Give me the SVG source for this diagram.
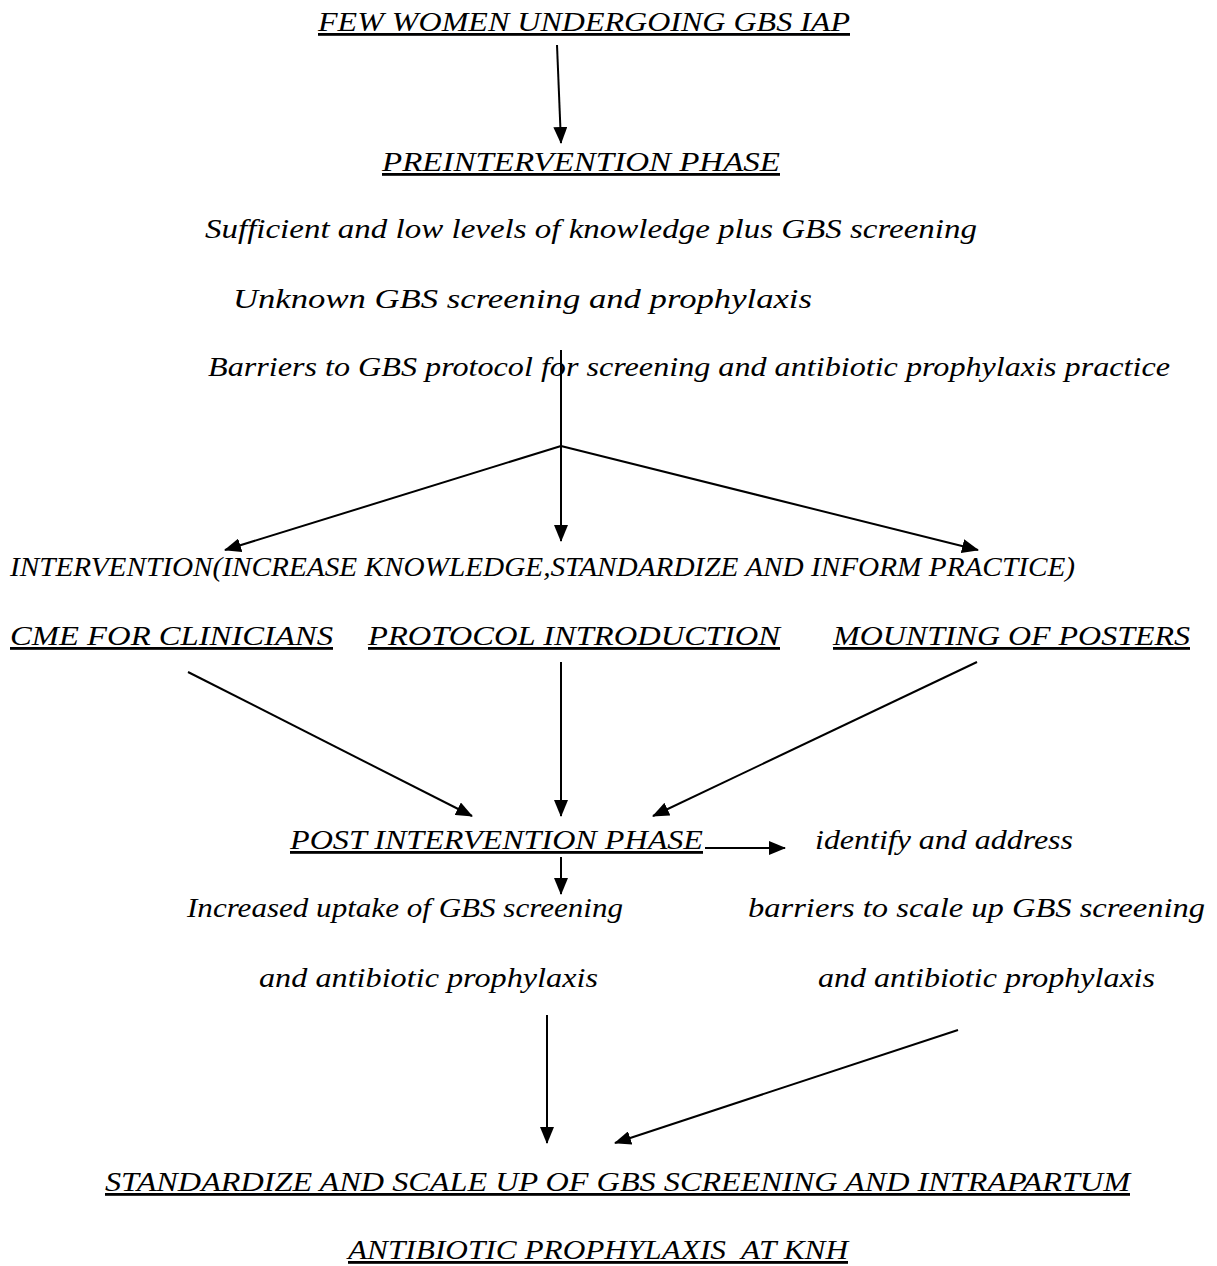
<svg xmlns="http://www.w3.org/2000/svg" width="1217" height="1266" viewBox="0 0 1217 1266">
<style>
text{font-family:"Liberation Serif","Times New Roman",serif;font-style:italic;font-size:28px;fill:#000}
.u{text-decoration:underline}
.c line,.c path{stroke:#000;stroke-width:2;fill:none}
</style>
<defs>
<marker id="ah" markerUnits="userSpaceOnUse" markerWidth="17" markerHeight="14" refX="16" refY="7" orient="auto">
<path d="M0,0 L17,7 L0,14 Z" fill="#000"/>
</marker>
</defs>
<rect width="1217" height="1266" fill="#fff"/>
<g class="c" id="connectors">
<line x1="557" y1="45" x2="561" y2="143" marker-end="url(#ah)"/>
<line x1="561" y1="350" x2="561" y2="446" stroke-width="1.5"/>
<line x1="561" y1="446" x2="225" y2="550" marker-end="url(#ah)"/>
<line x1="561" y1="446" x2="561" y2="541" stroke-width="1.5" marker-end="url(#ah)"/>
<line x1="561" y1="446" x2="978" y2="550" marker-end="url(#ah)"/>
<line x1="188" y1="672" x2="472" y2="816" marker-end="url(#ah)"/>
<line x1="561" y1="662" x2="561" y2="816" marker-end="url(#ah)"/>
<line x1="977" y1="662" x2="653" y2="816" marker-end="url(#ah)"/>
<line x1="705" y1="848" x2="785" y2="848" marker-end="url(#ah)"/>
<line x1="561" y1="857" x2="561" y2="894" marker-end="url(#ah)"/>
<line x1="547" y1="1015" x2="547" y2="1143" marker-end="url(#ah)"/>
<line x1="958" y1="1030" x2="615" y2="1143" marker-end="url(#ah)"/>
</g>
<g id="n1"><text class="u" x="318" y="31" textLength="532" lengthAdjust="spacingAndGlyphs">FEW WOMEN UNDERGOING GBS IAP</text></g>
<g id="n2"><text class="u" x="382" y="171" textLength="398" lengthAdjust="spacingAndGlyphs">PREINTERVENTION PHASE</text></g>
<g id="n3"><text x="205" y="238" textLength="772" lengthAdjust="spacingAndGlyphs">Sufficient and low levels of knowledge plus GBS screening</text></g>
<g id="n4"><text x="233" y="308" textLength="579" lengthAdjust="spacingAndGlyphs">Unknown GBS screening and prophylaxis</text></g>
<g id="n5"><text x="208" y="376" textLength="962" lengthAdjust="spacingAndGlyphs">Barriers to GBS protocol for screening and antibiotic prophylaxis practice</text></g>
<g id="n6"><text x="10" y="576" textLength="1065" lengthAdjust="spacingAndGlyphs">INTERVENTION(INCREASE KNOWLEDGE,STANDARDIZE AND INFORM PRACTICE)</text></g>
<g id="n7"><text class="u" x="10" y="645" textLength="323" lengthAdjust="spacingAndGlyphs">CME FOR CLINICIANS </text></g>
<g id="n8"><text class="u" x="368" y="645" textLength="412" lengthAdjust="spacingAndGlyphs"> PROTOCOL INTRODUCTION</text></g>
<g id="n9"><text class="u" x="833" y="645" textLength="357" lengthAdjust="spacingAndGlyphs">MOUNTING OF POSTERS</text></g>
<g id="n10"><text class="u" x="290" y="849" textLength="413" lengthAdjust="spacingAndGlyphs">POST INTERVENTION PHASE</text></g>
<g id="n11"><text x="815" y="849" textLength="258" lengthAdjust="spacingAndGlyphs">identify and address</text></g>
<g id="n12"><text x="187" y="917" textLength="436" lengthAdjust="spacingAndGlyphs">Increased uptake of GBS screening</text>
<text x="259" y="987" textLength="339" lengthAdjust="spacingAndGlyphs">and antibiotic prophylaxis</text></g>
<g id="n13"><text x="748" y="917" textLength="457" lengthAdjust="spacingAndGlyphs">barriers to scale up GBS screening</text>
<text x="818" y="987" textLength="337" lengthAdjust="spacingAndGlyphs">and antibiotic prophylaxis</text></g>
<g id="n14"><text class="u" x="105" y="1191" textLength="1025" lengthAdjust="spacingAndGlyphs">STANDARDIZE AND SCALE UP OF GBS SCREENING AND INTRAPARTUM</text>
<text class="u" x="348" y="1259" textLength="500" lengthAdjust="spacingAndGlyphs" xml:space="preserve">ANTIBIOTIC PROPHYLAXIS  AT KNH</text></g>
</svg>
